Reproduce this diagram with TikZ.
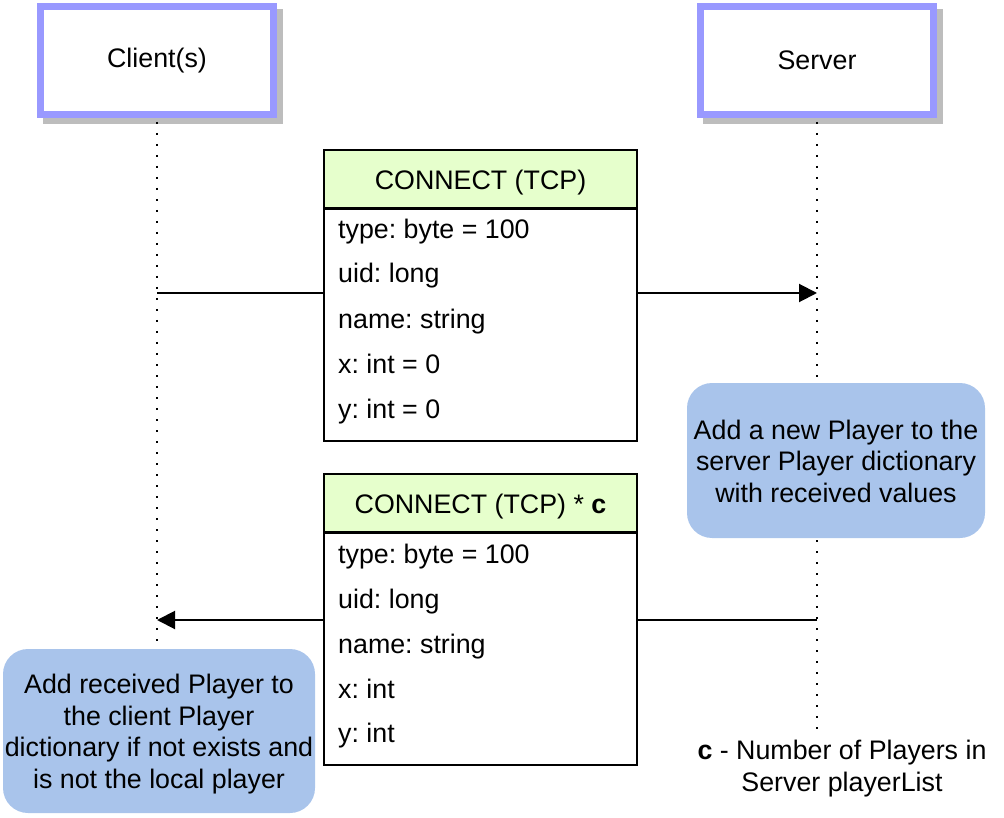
\documentclass[tikz,border=0pt]{standalone}
\usepackage{fontspec}
\setmainfont{Liberation Sans}
\usetikzlibrary{arrows.meta}
\frenchspacing
\definecolor{lifeblue}{HTML}{9999FF}
\definecolor{shadowgray}{HTML}{BDBDBD}
\definecolor{hdrgreen}{HTML}{E6FFCC}
\definecolor{noteblue}{HTML}{A9C4EB}
\tikzset{
  x=1pt, y=-1pt,
  txt/.style={font=\fontsize{26.8}{31.5}\selectfont},
  actor/.style={txt, draw=lifeblue, line width=7pt, fill=white, minimum width=233pt, minimum height=108pt, inner sep=0pt},
  actshadow/.style={fill=shadowgray, draw=none, minimum width=240pt, minimum height=115pt, inner sep=0pt},
  lifeline/.style={line width=1.6pt, dash pattern=on 1.6pt off 9.4pt},
  hdr/.style={txt, draw=black, line width=2pt, fill=hdrgreen, minimum width=313pt, minimum height=58pt, inner sep=0pt, text height=21pt, text depth=0pt},
  body/.style={draw=black, line width=2pt, fill=white, minimum width=313pt, minimum height=232pt, inner sep=0pt},
  row/.style={txt, anchor=base west, inner sep=0pt},
  notebg/.style={fill=noteblue, rounded corners=25pt, inner sep=0pt},
  notetext/.style={txt, align=center, inner sep=0pt},
  msg/.style={line width=2pt},
  msgarrow/.style={line width=2pt, -{Triangle[length=18pt,width=18pt]}},
}
\begin{document}
\begin{tikzpicture}
\useasboundingbox (0,0) rectangle (1004,818);
% actors
\node[actshadow] (cshadow) at (162.5,67) {};
\node[actshadow] (sshadow) at (822.5,67) {};
\node[actor] (client) at (157,60.5) {Client(s)};
\node[actor] (server) at (817,60.5) {Server};
% lifelines
\coordinate (cend) at (157,645);
\coordinate (send) at (817,736);
\draw[lifeline] (client.south) ++(0,4) -- (cend);
\draw[lifeline] (server.south) ++(0,4) -- (send);
% message 1
\node[hdr] (h1) at (480.5,179) {CONNECT (TCP)};
\node[body, anchor=north] (b1) at (480.5,208) {};
\node[row] (r11) at (338,239) {type: byte = 100};
\node[row] (r12) at (338,283) {uid: long};
\node[row] (r13) at (338,328) {name: string};
\node[row] (r14) at (338,373) {x: int = 0};
\node[row] (r15) at (338,418) {y: int = 0};
% message 2
\node[hdr] (h2) at (480.5,503) {CONNECT (TCP) * \textbf{c}};
\node[body, anchor=north] (b2) at (480.5,532) {};
\node[row] (r21) at (338,563) {type: byte = 100};
\node[row] (r22) at (338,608) {uid: long};
\node[row] (r23) at (338,653) {name: string};
\node[row] (r24) at (338,698) {x: int};
\node[row] (r25) at (338,742) {y: int};
% arrows
\coordinate (c1) at (157,293);
\coordinate (s1) at (817,293);
\coordinate (s2) at (817,620);
\coordinate (c2) at (157,620);
\draw[msg] (c1) -- (b1.west |- c1);
\draw[msgarrow] (b1.east |- s1) -- (s1);
\draw[msg] (s2) -- (b2.east |- s2);
\draw[msgarrow] (b2.west |- c2) -- (c2);
% notes
\node[notebg, minimum width=298pt, minimum height=155pt] (n1bg) at (836,460.5) {};
\node[notetext] (n1) at (836,461)
  {Add a new Player to the\\server Player dictionary\\with received values};
\node[notebg, minimum width=312pt, minimum height=164pt] (n2bg) at (159,731) {};
\node[notetext] (n2) at (159,734)
  {Add received Player to\\the client Player\\dictionary if not exists and\\is not the local player};
% footnote
\node[notetext] (fn) at (842,768.5)
  {\textbf{c} - Number of Players in\\Server playerList};
\end{tikzpicture}
\end{document}
